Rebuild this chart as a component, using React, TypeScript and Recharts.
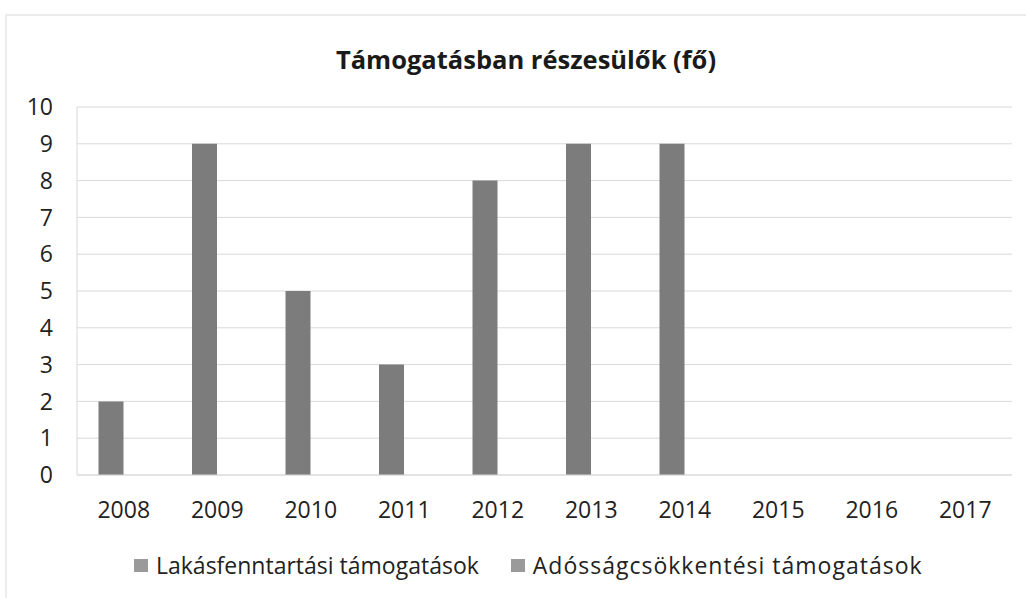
import React from 'react';
import { BarChart, Bar, XAxis, YAxis, CartesianGrid, Legend } from 'recharts';

const categories = ['2008', '2009', '2010', '2011', '2012', '2013', '2014', '2015', '2016', '2017'];
const lakasfenntartasi = [2, 9, 5, 3, 8, 9, 9, 0, 0, 0];
const adossagcsokkentesi = [0, 0, 0, 0, 0, 0, 0, 0, 0, 0];
const yTicks = [0, 1, 2, 3, 4, 5, 6, 7, 8, 9, 10];
const seriesNames = ['Lakásfenntartási támogatások', 'Adósságcsökkentési támogatások'];
const titleText = 'Támogatásban részesülők (fő)';

const data = categories.map((c, i) => ({
  year: c,
  a: lakasfenntartasi[i],
  b: adossagcsokkentesi[i],
}));

const FONT = '"Open Sans", sans-serif';

const renderLegend = () => (
  <div style={{ display: 'flex', justifyContent: 'flex-start', paddingLeft: 134, fontFamily: FONT, fontSize: 23, color: '#222', height: 30, alignItems: 'center' }}>
    <span style={{ display: 'inline-flex', alignItems: 'center' }}>
      <span style={{ width: 14, height: 13, background: '#9a9a9a', display: 'inline-block', marginRight: 8 }} />
      {seriesNames[0]}
    </span>
    <span style={{ display: 'inline-flex', alignItems: 'center', marginLeft: 32 }}>
      <span style={{ width: 14, height: 13, background: '#9a9a9a', display: 'inline-block', marginRight: 8 }} />
      <span style={{ letterSpacing: 1 }}>{seriesNames[1]}</span>
    </span>
  </div>
);

export default function App() {
  return (
    <div style={{ position: 'absolute', left: 0, top: 0, width: 1026, height: 598, background: '#fff' }}>
      <BarChart
        width={1026}
        height={598}
        data={data}
        margin={{ top: 107, right: 14, bottom: 18, left: 0 }}
        barCategoryGap="23%"
        barGap={0}
      >
        <rect x={6} y={15} width={1030} height={600} fill="none" stroke="#e6e6e6" strokeWidth={1.5} />
        <text x={526} y={69} textAnchor="middle" fontFamily={FONT} fontWeight={700} fontSize={25.5} fill="#1a1a1a">
          {titleText}
        </text>
        <CartesianGrid vertical={false} stroke="#d9d9d9" />
        <XAxis
          dataKey="year"
          tickLine={false}
          axisLine={{ stroke: '#d9d9d9' }}
          tickMargin={21}
          height={75}
          interval={0}
          tick={{ fontFamily: FONT, fontSize: 23, fill: '#222' }}
        />
        <YAxis
          domain={[0, 10]}
          ticks={yTicks}
          interval={0}
          width={77}
          tickLine={false}
          axisLine={{ stroke: '#d9d9d9' }}
          tickMargin={18}
          tick={{ fontFamily: FONT, fontSize: 23, fill: '#222' }}
        />
        <Legend verticalAlign="bottom" content={renderLegend} height={30} />
        <Bar dataKey="a" name={seriesNames[0]} fill="#7c7c7c" isAnimationActive={false} />
        <Bar dataKey="b" name={seriesNames[1]} fill="#9a9a9a" isAnimationActive={false} />
      </BarChart>
    </div>
  );
}
